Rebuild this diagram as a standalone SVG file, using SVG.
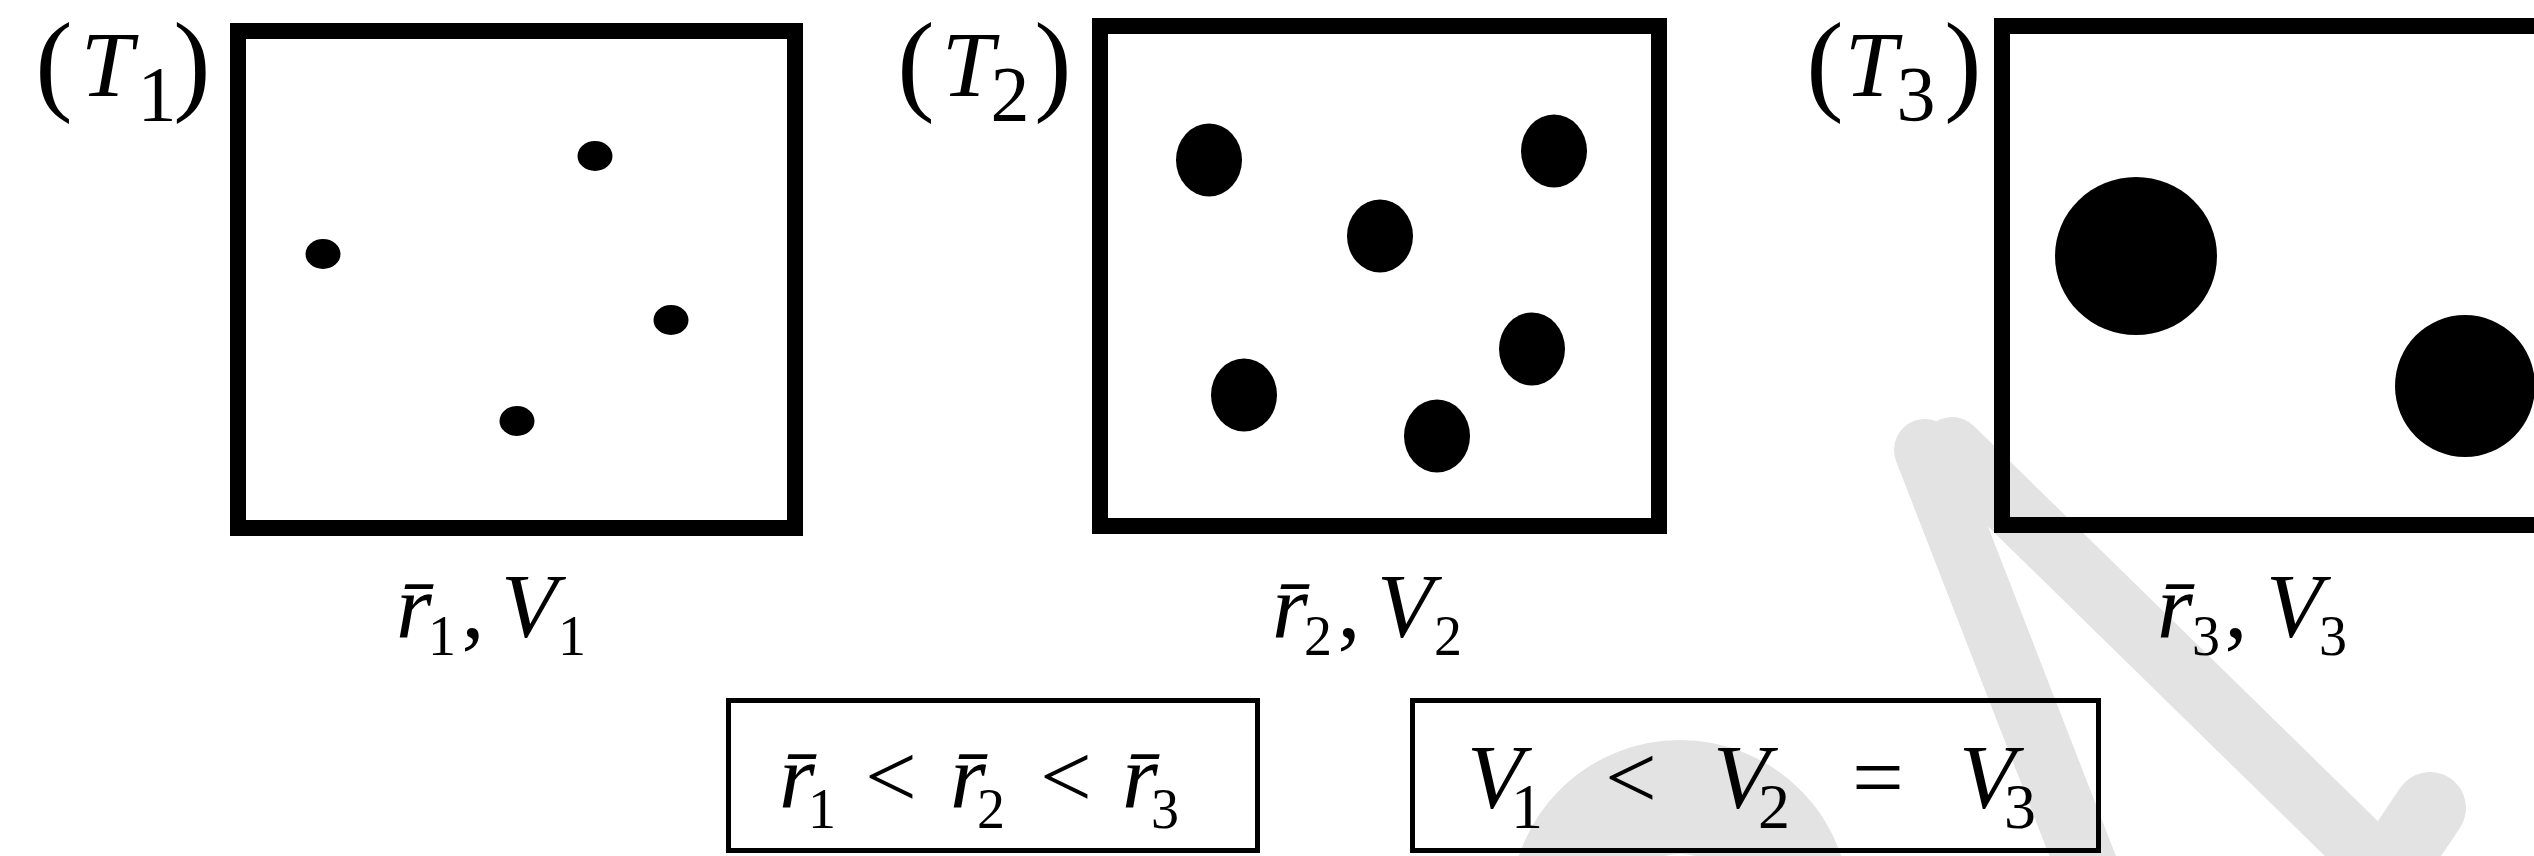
<svg xmlns="http://www.w3.org/2000/svg" width="2534" height="856" viewBox="0 0 2534 856">
<style>
.frame{fill:none;stroke:#000;stroke-width:16}
.thin{fill:none;stroke:#000;stroke-width:5}
.dot{fill:#000}
.wm{fill:none;stroke:#e3e3e3;stroke-linecap:round}
text{font-family:"Liberation Serif","Times New Roman",serif;fill:#000;text-anchor:middle}
.it{font-style:italic}
.par{font-size:112px}
.tt{font-size:94px}
.ts{font-size:78px}
.m{font-size:92px}
.s{font-size:56px}
.sv{font-size:64px}
</style>
<rect width="2534" height="856" fill="#fff"/>
<g id="watermark">
<circle cx="1680" cy="910" r="113" fill="none" stroke="#e3e3e3" stroke-width="114"/>
<line class="wm" x1="1925" y1="450" x2="2092" y2="880" stroke-width="62"/>
<line class="wm" x1="1952" y1="448" x2="2365" y2="852" stroke-width="62"/>
<line class="wm" x1="2385" y1="875" x2="2430" y2="808" stroke-width="72"/>
</g>
<g id="connectors"/>
<g id="panel-t1">
<rect class="frame" x="238" y="31" width="557" height="497"/>
<ellipse class="dot" cx="595" cy="156" rx="17.5" ry="15"/>
<ellipse class="dot" cx="323" cy="254" rx="17.5" ry="15"/>
<ellipse class="dot" cx="671" cy="320" rx="17.5" ry="15"/>
<ellipse class="dot" cx="517" cy="421" rx="17.5" ry="15"/>
<text><tspan class="par" x="54" y="100">(</tspan><tspan class="tt it" x="107" y="96">T</tspan><tspan class="ts" x="157" y="120">1</tspan><tspan class="par" x="192" y="100">)</tspan></text>
<text class="m"><tspan class="it" x="414" y="637">r̄</tspan><tspan class="s" x="442" y="655">1</tspan><tspan x="473" y="637">,</tspan><tspan class="it" x="529" y="637">V</tspan><tspan class="s" x="572" y="655">1</tspan></text>
</g>
<g id="panel-t2">
<rect class="frame" x="1100" y="26" width="559" height="500"/>
<ellipse class="dot" cx="1209" cy="160" rx="33" ry="36.5"/>
<ellipse class="dot" cx="1554" cy="151" rx="33" ry="36.5"/>
<ellipse class="dot" cx="1380" cy="236" rx="33" ry="36.5"/>
<ellipse class="dot" cx="1532" cy="349" rx="33" ry="36.5"/>
<ellipse class="dot" cx="1244" cy="395" rx="33" ry="36.5"/>
<ellipse class="dot" cx="1437" cy="436" rx="33" ry="36.5"/>
<text><tspan class="par" x="916" y="100">(</tspan><tspan class="tt it" x="968" y="96">T</tspan><tspan class="ts" x="1010" y="120">2</tspan><tspan class="par" x="1053" y="100">)</tspan></text>
<text class="m"><tspan class="it" x="1290" y="637">r̄</tspan><tspan class="s" x="1318" y="655">2</tspan><tspan x="1349" y="637">,</tspan><tspan class="it" x="1405" y="637">V</tspan><tspan class="s" x="1448" y="655">2</tspan></text>
</g>
<g id="panel-t3">
<rect class="frame" x="2002" y="26" width="620" height="499"/>
<ellipse class="dot" cx="2136" cy="256" rx="81" ry="79"/>
<ellipse class="dot" cx="2465" cy="386" rx="70" ry="71"/>
<text><tspan class="par" x="1825" y="100">(</tspan><tspan class="tt it" x="1871" y="96">T</tspan><tspan class="ts" x="1916" y="120">3</tspan><tspan class="par" x="1963" y="100">)</tspan></text>
<text class="m"><tspan class="it" x="2175" y="637">r̄</tspan><tspan class="s" x="2206" y="655">3</tspan><tspan x="2236" y="637">,</tspan><tspan class="it" x="2294" y="637">V</tspan><tspan class="s" x="2333" y="655">3</tspan></text>
</g>
<g id="box-r">
<rect class="thin" x="728.5" y="700.5" width="529" height="150"/>
<text class="m"><tspan class="it" x="797" y="807">r̄</tspan><tspan class="s" x="822" y="828">1</tspan><tspan x="891" y="807">&lt;</tspan><tspan class="it" x="968" y="807">r̄</tspan><tspan class="s" x="991" y="828">2</tspan><tspan x="1066" y="807">&lt;</tspan><tspan class="it" x="1140" y="807">r̄</tspan><tspan class="s" x="1165" y="828">3</tspan></text>
</g>
<g id="box-v">
<rect class="thin" x="1412.5" y="700.5" width="686" height="150"/>
<text class="m"><tspan class="it" x="1495" y="808">V</tspan><tspan class="sv" x="1527" y="828">1</tspan><tspan x="1631" y="808">&lt;</tspan><tspan class="it" x="1741" y="808">V</tspan><tspan class="sv" x="1774" y="828">2</tspan><tspan x="1878" y="808">=</tspan><tspan class="it" x="1987" y="808">V</tspan><tspan class="sv" x="2020" y="828">3</tspan></text>
</g>
</svg>
